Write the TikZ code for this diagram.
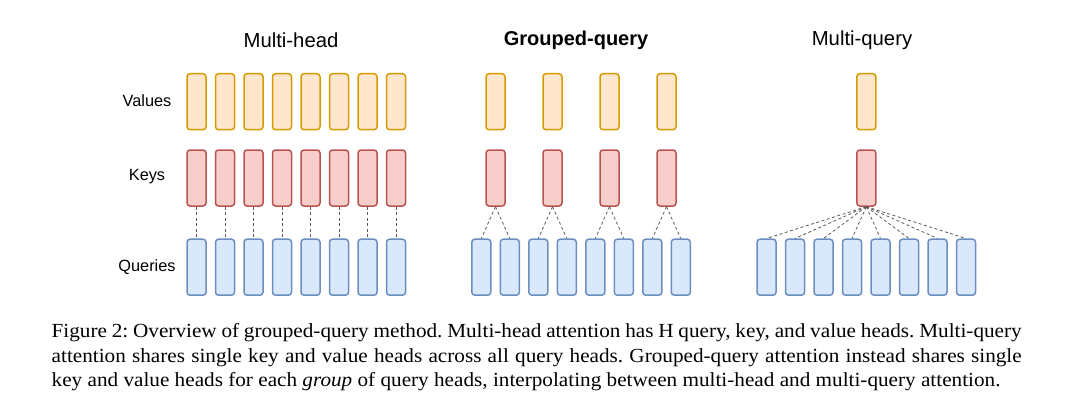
\documentclass[tikz,border=0pt]{standalone}
\usepackage{fontspec}
\setmainfont{Liberation Serif}[FakeStretch=1.06]
\setsansfont{Liberation Sans}
\begin{document}
\begin{tikzpicture}[x=1pt,y=-1pt,
  head/.style={draw, line width=1.5pt, rounded corners=3pt, minimum width=19pt, minimum height=56pt, inner sep=0pt},
  val/.style={head, draw={rgb,255:red,215;green,155;blue,0}, fill={rgb,255:red,255;green,230;blue,204}},
  key/.style={head, draw={rgb,255:red,184;green,84;blue,80}, fill={rgb,255:red,248;green,206;blue,204}},
  qry/.style={head, draw={rgb,255:red,108;green,142;blue,191}, fill={rgb,255:red,218;green,232;blue,252}},
  link/.style={draw={rgb,255:red,90;green,90;blue,90}, line width=0.8pt, dash pattern=on 3pt off 2.5pt},
  lab/.style={font=\sffamily\fontsize{16.3}{19}\selectfont},
  ttl/.style={font=\sffamily\fontsize{20.3}{24}\selectfont}]
\useasboundingbox (0,0) rectangle (1068,418);
% titles
\node[ttl] (t1) at (291,40) {Multi-head};
\node[ttl, font=\sffamily\bfseries\fontsize{20}{24}\selectfont] (t2) at (576,40) {Grouped-query};
\node[ttl] (t3) at (862,40) {Multi-query};
% row labels
\node[lab] (lv) at (147,101) {Values};
\node[lab] (lk) at (147,177) {Keys};
\node[lab] (lq) at (147,267) {Queries};
% multi-head
\foreach \i in {0,...,7} {
  \node[val] (mv\i) at ({196.5+28.5*\i},101.7) {};
  \node[key] (mk\i) at ({196.5+28.5*\i},178) {};
  \node[qry] (mq\i) at ({196.5+28.5*\i},267.2) {};
  \draw[link] (mk\i.south) -- (mq\i.north);
}
% grouped-query
\foreach \i in {0,...,3} {
  \node[val] (gv\i) at ({495.5+57*\i},101.7) {};
  \node[key] (gk\i) at ({495.5+57*\i},178) {};
}
\foreach \i in {0,...,7} {
  \node[qry] (gq\i) at ({481.3+28.5*\i},267.2) {};
}
\foreach \i/\a/\b in {0/0/1,1/2/3,2/4/5,3/6/7} {
  \draw[link] (gk\i.south) -- (gq\a.north);
  \draw[link] (gk\i.south) -- (gq\b.north);
}
% multi-query
\node[val] (qv) at (866.3,101.7) {};
\node[key] (qk) at (866.3,178) {};
\foreach \i in {0,...,7} {
  \node[qry] (qq\i) at ({766.5+28.5*\i},267.2) {};
  \draw[link] (qk.south) -- (qq\i.north);
}
% caption
\node[anchor=base west, inner sep=0pt, text width=970pt, align=justify,
      font=\fontsize{20}{24.5}\selectfont\frenchspacing] (cap) at (51.5,337.7)
{Figure 2: Overview of grouped-query method. Multi-head attention has H query, key, and value heads. Multi-query\linebreak
attention shares single key and value heads across all query heads. Grouped-query attention instead shares single\linebreak
key and value heads for each \textit{group} of query heads, interpolating between multi-head and multi-query attention.};
\end{tikzpicture}
\end{document}
